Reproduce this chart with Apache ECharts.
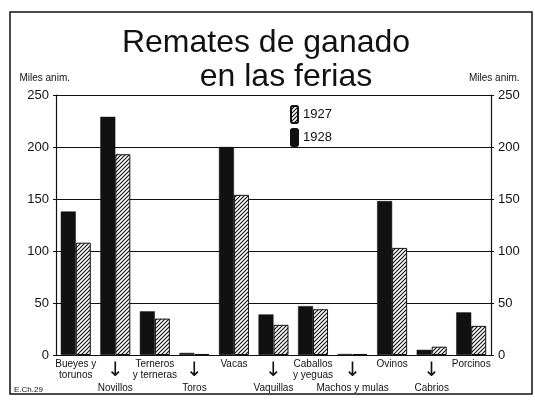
<!DOCTYPE html>
<html>
<head>
<meta charset="utf-8">
<script src="https://cdn.jsdelivr.net/npm/echarts@6/dist/echarts.min.js"></script>
<style>
  html, body { margin: 0; padding: 0; background: #fff; }
  #chart { width: 535px; height: 402px; }
</style>
</head>
<body>
<div id="chart"></div>
<script>
// categorias (etiquetas impares van abajo, con flecha)
var categories = ["Bueyes y\ntorunos", "Novillos", "Terneros\ny terneras", "Toros", "Vacas",
  "Vaquillas", "Caballos\ny yeguas", "Machos y mulas", "Ovinos", "Cabrios", "Porcinos"];
var v1928 = [138, 229, 42, 2, 200, 39, 47, 1, 148, 5, 41];
var v1927 = [108, 193, 35, 1, 154, 29, 44, 1, 103, 8, 28];
var yTicks = [0, 50, 100, 150, 200, 250];

// rayado diagonal para 1927
function hatch() {
  var c = document.createElement("canvas");
  c.width = 4; c.height = 4;
  var ctx = c.getContext("2d");
  ctx.fillStyle = "#fff";
  ctx.fillRect(0, 0, 4, 4);
  ctx.strokeStyle = "#111";
  ctx.lineWidth = 1.1;
  ctx.beginPath();
  ctx.moveTo(-1, 5); ctx.lineTo(5, -1);
  ctx.moveTo(-1, 1); ctx.lineTo(1, -1);
  ctx.moveTo(3, 5); ctx.lineTo(5, 3);
  ctx.stroke();
  return { image: c, repeat: "repeat" };
}

var chart = echarts.init(document.getElementById("chart"));
var font = "Liberation Sans, Arial, sans-serif";
var titleStyle = { color: "#111", fontSize: 32, fontWeight: "normal", fontFamily: font };

function yAxis(pos) {
  return {
    type: "value",
    position: pos,
    min: yTicks[0],
    max: yTicks[yTicks.length - 1],
    interval: 50,
    name: "Miles anim.",
    nameLocation: "end",
    nameGap: 12,
    nameTextStyle: { color: "#111", fontSize: 10, fontFamily: font, align: pos == "left" ? "right" : "left",
      padding: pos == "left" ? [0, -14, 0, 0] : [0, 0, 0, -22] },
    axisLine: { show: true, lineStyle: { color: "#111", width: 1.2 } },
    axisTick: { show: true, length: 3, lineStyle: { color: "#111" } },
    axisLabel: { color: "#111", fontSize: 13, fontFamily: font, margin: 7 },
    splitLine: { show: pos == "left", lineStyle: { color: "#111", width: 1 } }
  };
}

chart.setOption({
  animation: false,
  backgroundColor: "#fff",
  title: [
    { text: "Remates de ganado", left: 261, textAlign: "center", top: 22, textStyle: titleStyle },
    { text: "en las ferias", left: 281, textAlign: "center", top: 56, textStyle: titleStyle }
  ],
  legend: {
    data: ["1927", "1928"],
    orient: "vertical",
    left: 285,
    top: 100,
    itemWidth: 7,
    itemHeight: 17,
    itemGap: 4,
    textStyle: { color: "#111", fontSize: 13, fontFamily: font }
  },
  grid: { left: 56, right: 44, top: 95, bottom: 47 },
  xAxis: {
    type: "category",
    data: categories,
    axisLine: { lineStyle: { color: "#111", width: 1.2 } },
    axisTick: { show: false },
    axisLabel: {
      interval: 0,
      margin: 4,
      color: "#111",
      fontSize: 10,
      fontFamily: font,
      lineHeight: 11,
      formatter: function (v, i) {
        if (i % 2 == 1) return "{a|↓}\n{t|" + v + "}";
        return "{t|" + v + "}";
      },
      rich: {
        a: { fontSize: 20, lineHeight: 24, color: "#111", fontFamily: "DejaVu Sans" },
        t: { fontSize: 10, lineHeight: 11, color: "#111", fontFamily: font }
      }
    }
  },
  yAxis: [yAxis("left"), yAxis("right")],
  series: [
    {
      name: "1928", type: "bar", data: v1928, barWidth: 15, barGap: "0%",
      itemStyle: { color: "#111", borderColor: "#111", borderWidth: 0.5 }
    },
    {
      name: "1927", type: "bar", data: v1927, barWidth: 15,
      itemStyle: { color: hatch(), borderColor: "#111", borderWidth: 1 }
    }
  ],
  graphic: [
    { type: "rect", shape: { x: 10, y: 12, width: 522, height: 382 }, silent: true,
      style: { fill: null, stroke: "#111", lineWidth: 1.5 } },
    { type: "text", left: 14, top: 386, silent: true,
      style: { text: "E.Ch.29", fill: "#111", fontSize: 8, fontFamily: font } }
  ]
});
</script>
</body>
</html>
